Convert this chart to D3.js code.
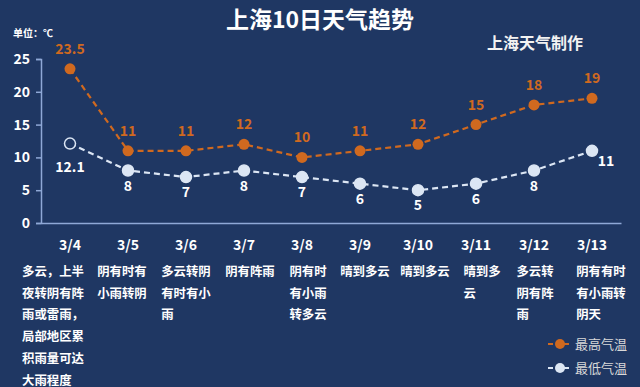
<!DOCTYPE html>
<html>
<head>
<meta charset="utf-8">
<script src="https://cdn.jsdelivr.net/npm/d3@7"></script>
<style>
	body { margin: 0; background: #1f3763; }
	svg { display: block; font-family: "Noto Sans CJK SC", "Microsoft YaHei", sans-serif; }
</style>
</head>
<body>
<svg id="chart1" width="640" height="387"></svg>
<script>
var dates = ["3/4", "3/5", "3/6", "3/7", "3/8", "3/9", "3/10", "3/11", "3/12", "3/13"];
var highTemps = [23.5, 11, 11, 12, 10, 11, 12, 15, 18, 19];
var lowTemps = [12.1, 8, 7, 8, 7, 6, 5, 6, 8, 11];
var yTicks = [0, 5, 10, 15, 20, 25];
var weather = [
	["多云，上半", "夜转阴有阵", "雨或雷雨，", "局部地区累", "积雨量可达", "大雨程度"],
	["阴有时有", "小雨转阴"],
	["多云转阴", "有时有小", "雨"],
	["阴有阵雨"],
	["阴有时", "有小雨", "转多云"],
	["晴到多云"],
	["晴到多云"],
	["晴到多", "云"],
	["多云转", "阴有阵", "雨"],
	["阴有有时", "有小雨转", "阴天"]
];
var seriesNames = ["最高气温", "最低气温"];

draw_chart();

function draw_chart() {
	var svg = d3.select('#chart1');
	svg.selectAll("*").remove();

	var width = 640, height = 387,
		margin = {top: 59, left: 41, right: 19, bottom: 164};
	var hiColor = "#d0691f", loColor = "#dce6f4", axisColor = "#8fa8d6";
	// the text boxes under the axis are placed by hand, not quite centred
	var descShift = [-17, -6, 0, 6, 6, 5, 7, 6, 1, 9];

	svg.append("rect")
		.attr("width", width)
		.attr("height", height)
		.attr("fill", "#1f3763");

	var x = d3.scaleBand()
		.domain(dates)
		.range([margin.left, width - margin.right]);

	var y = d3.scaleLinear()
		.domain([0, 25])
		.range([height - margin.bottom, margin.top]);

	// titles
	svg.append("text")
		.attr("x", 320).attr("y", 28)
		.attr("text-anchor", "middle")
		.attr("font-size", "23px").attr("font-weight", "bold")
		.attr("fill", "white")
		.text("上海10日天气趋势");

	svg.append("text")
		.attr("x", 535).attr("y", 49)
		.attr("text-anchor", "middle")
		.attr("font-size", "16px").attr("font-weight", "bold")
		.attr("fill", "#f2f2f2")
		.text("上海天气制作");

	svg.append("text")
		.attr("x", 13).attr("y", 37)
		.attr("font-size", "10px").attr("font-weight", "bold")
		.attr("fill", "white")
		.text("单位：℃");

	// y axis
	var yAxis = svg.append("g")
		.attr("transform", "translate(" + margin.left + ",0)")
		.call(d3.axisLeft(y).tickValues(yTicks).tickSize(5).tickPadding(6));
	yAxis.select(".domain").attr("stroke", axisColor).attr("stroke-width", 1.5);
	yAxis.selectAll(".tick line").attr("stroke", axisColor).attr("stroke-width", 1.5);
	yAxis.selectAll(".tick text")
		.attr("fill", "white")
		.attr("font-size", "14px")
		.attr("font-weight", "bold")
		.attr("font-family", "\"Noto Sans CJK SC\", sans-serif");

	// x axis
	var xAxis = svg.append("g")
		.attr("transform", "translate(0," + y(0) + ")")
		.call(d3.axisBottom(x).tickSize(0).tickPadding(17));
	xAxis.select(".domain").attr("stroke", axisColor).attr("stroke-width", 1.5);
	xAxis.selectAll(".tick text")
		.attr("fill", "white")
		.attr("font-size", "14px")
		.attr("font-weight", "bold")
		.attr("font-family", "\"Noto Sans CJK SC\", sans-serif");

	// weather descriptions
	var desc = svg.selectAll("g.desc")
		.data(weather)
		.enter().append("g")
		.attr("class", "desc");
	desc.each(function (lines, i) {
		var g = d3.select(this);
		var maxLen = d3.max(lines, function (l) { return l.length; });
		var x0 = x(dates[i]) + x.bandwidth() / 2 - maxLen * 12.4 / 2 + descShift[i];
		g.selectAll("text")
			.data(lines)
			.enter().append("text")
			.attr("x", x0)
			.attr("y", function (d, j) { return 276 + j * 21.7; })
			.attr("font-size", "12.4px")
			.attr("font-weight", "bold")
			.attr("fill", "white")
			.text(function (d) { return d; });
	});

	var cx = function (d, i) { return x(dates[i]) + x.bandwidth() / 2; };

	var line = d3.line()
		.x(function (d, i) { return cx(d, i); })
		.y(function (d) { return y(d); });

	// high series
	svg.append("path")
		.datum(highTemps)
		.attr("d", line)
		.attr("fill", "none")
		.attr("stroke", hiColor)
		.attr("stroke-width", 2.2)
		.attr("stroke-dasharray", "6,4");

	svg.selectAll("circle.hi")
		.data(highTemps)
		.enter().append("circle")
		.attr("class", "hi")
		.attr("cx", cx)
		.attr("cy", function (d) { return y(d); })
		.attr("r", 5.5)
		.attr("fill", hiColor);

	svg.selectAll("text.hi")
		.data(highTemps)
		.enter().append("text")
		.attr("class", "hi")
		.attr("x", cx)
		.attr("y", function (d) { return y(d) - 15; })
		.attr("text-anchor", "middle")
		.attr("font-size", "14px")
		.attr("font-weight", "bold")
		.attr("fill", hiColor)
		.text(function (d) { return d; });

	// low series
	svg.append("path")
		.datum(lowTemps)
		.attr("d", line)
		.attr("fill", "none")
		.attr("stroke", loColor)
		.attr("stroke-width", 2.2)
		.attr("stroke-dasharray", "6,4");

	svg.selectAll("circle.lo")
		.data(lowTemps)
		.enter().append("circle")
		.attr("class", "lo")
		.attr("cx", cx)
		.attr("cy", function (d) { return y(d); })
		.attr("r", 5.5)
		.attr("fill", function (d, i) { return i == 0 ? "#1f3763" : loColor; })
		.attr("stroke", loColor)
		.attr("stroke-width", 1.5);

	svg.selectAll("text.lo")
		.data(lowTemps)
		.enter().append("text")
		.attr("class", "lo")
		.attr("x", function (d, i) { return cx(d, i) + (i == lowTemps.length - 1 ? 14 : 0); })
		.attr("y", function (d, i) {
			if (i == 0) return y(d) + 28;
			if (i == lowTemps.length - 1) return y(d) + 15;
			return y(d) + 20;
		})
		.attr("text-anchor", "middle")
		.attr("font-size", "14px")
		.attr("font-weight", "bold")
		.attr("fill", "white")
		.text(function (d) { return d; });

	// legend
	var legend = svg.selectAll("g.legend")
		.data(seriesNames)
		.enter().append("g")
		.attr("class", "legend")
		.attr("transform", function (d, i) { return "translate(548," + (344 + i * 24) + ")"; });
	legend.append("line")
		.attr("x1", 0).attr("x2", 22)
		.attr("stroke", function (d, i) { return i == 0 ? hiColor : loColor; })
		.attr("stroke-width", 2.2)
		.attr("stroke-dasharray", "5,3");
	legend.append("circle")
		.attr("cx", 12).attr("r", 5)
		.attr("fill", function (d, i) { return i == 0 ? hiColor : loColor; });
	legend.append("text")
		.attr("x", 27).attr("y", 5)
		.attr("font-size", "13px")
		.attr("fill", "#d9d9d9")
		.text(function (d) { return d; });
}
</script>
</body>
</html>
